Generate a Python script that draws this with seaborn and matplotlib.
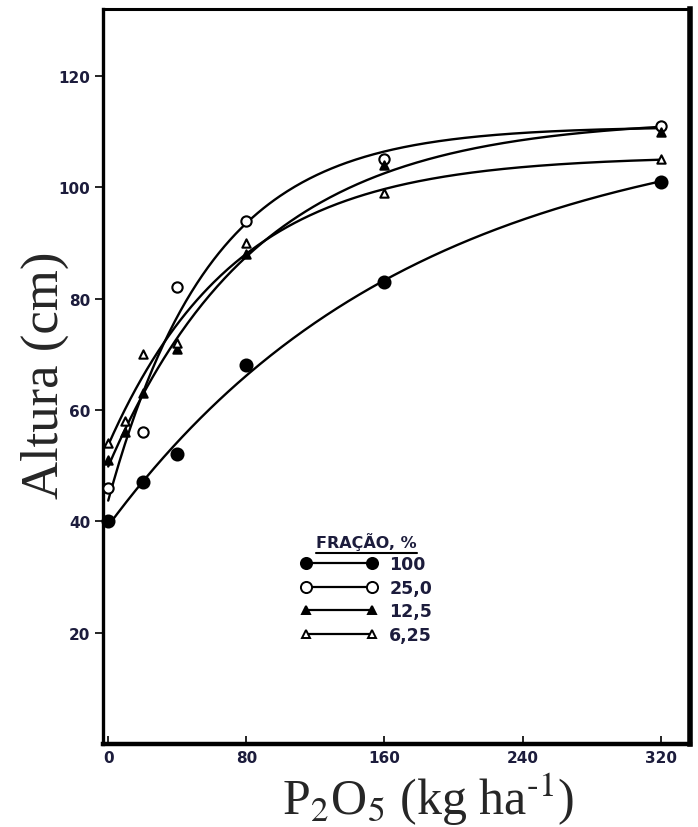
import numpy as np
import pandas as pd
import matplotlib
matplotlib.use('Agg')
import matplotlib.pyplot as plt
from matplotlib.lines import Line2D
import seaborn as sns

# P2O5 doses (kg/ha) and plant height (cm) per fraction
dose_circ = [0, 20, 40, 80, 160, 320]
dose_tri = [0, 10, 20, 40, 80, 160, 320]
h_100 = [40, 47, 52, 68, 83, 101]
h_25 = [46, 56, 82, 94, 105, 111]
h_12_5 = [51, 56, 63, 71, 88, 104, 110]
h_6_25 = [54, 58, 70, 72, 90, 99, 105]

legend_labels = ['100', '25,0', '12,5', '6,25']
xticks = [0, 80, 160, 240, 320]
yticks = [20, 40, 60, 80, 100, 120]

sns.set_style('white')
plt.rcParams['mathtext.fontset'] = 'stix'


def mitscherlich(x, y, xs):
    # y = a - b*exp(-c*x), c by grid search, a and b by least squares
    x = np.asarray(x, float)
    y = np.asarray(y, float)
    best = None
    for c in np.logspace(-4, -0.5, 400):
        A = np.column_stack([np.ones_like(x), -np.exp(-c * x)])
        sol, res, _, _ = np.linalg.lstsq(A, y, rcond=None)
        err = np.sum((A @ sol - y) ** 2)
        if best is None or err < best[0]:
            best = (err, c, sol)
    _, c, (a, b) = best
    return a - b * np.exp(-c * xs)


fig = plt.figure(figsize=(6.98, 8.28), dpi=100)
ax = fig.add_axes([0.1476, 0.1002, 0.8409, 0.8877])

series = [
    (dose_circ, h_100, 'o', 'black', 74),
    (dose_circ, h_25, 'o', 'white', 55),
    (dose_tri, h_12_5, '^', 'black', 36),
    (dose_tri, h_6_25, '^', 'white', 36),
]

xs = np.linspace(0, 320, 300)
for x, y, mk, fc, s in series:
    fit = pd.DataFrame({'x': xs, 'y': mitscherlich(x, y, xs)})
    sns.lineplot(data=fit, x='x', y='y', color='black', linewidth=1.7, ax=ax)
    pts = pd.DataFrame({'x': x, 'y': y})
    sns.scatterplot(data=pts, x='x', y='y', marker=mk, s=s, color=fc,
                    edgecolor='black', linewidth=1.5, zorder=5, clip_on=False, ax=ax)

ax.set_xlim(-3, 337)
ax.set_ylim(0, 132)
ax.set_xticks(xticks)
ax.set_yticks(yticks)
ax.set_xlabel('')
ax.set_ylabel('')

tick_col = '#1c1c3c'
ax.tick_params(axis='y', direction='out', length=6, width=1.2, color='black',
               labelsize=11, labelcolor=tick_col, pad=3, left=True)
ax.tick_params(axis='x', direction='in', length=6, width=1.2, color='black',
               labelsize=11, labelcolor=tick_col, pad=4, bottom=True)
for lab in ax.get_xticklabels() + ax.get_yticklabels():
    lab.set_fontweight('bold')

for side, lw in [('left', 2.4), ('bottom', 3.2), ('right', 4.0), ('top', 2.2)]:
    ax.spines[side].set_visible(True)
    ax.spines[side].set_color('black')
    ax.spines[side].set_linewidth(lw)

# legend with markers at both ends of each line
handles = []
for x, y, mk, fc, s in series:
    handles.append(Line2D([], [], color='black', linewidth=1.6, marker=mk,
                          markersize=8 if mk == 'o' else 6,
                          markerfacecolor=fc, markeredgecolor='black', markeredgewidth=1.4))
leg = ax.legend(handles, legend_labels, title='FRAÇÃO, %', loc='upper left',
                bbox_to_anchor=(0.31, 0.31), frameon=False, numpoints=2,
                handlelength=4.4, handletextpad=0.7, labelspacing=0.32,
                prop={'weight': 'bold', 'size': 12.5})
leg.get_title().set_fontweight('bold')
leg.get_title().set_fontsize(11.5)
leg.get_title().set_color(tick_col)
for t in leg.get_texts():
    t.set_color(tick_col)

fig.text(45 / 698, 1 - 375 / 828, 'Altura (cm)', rotation=90, ha='center', va='center',
         fontsize=38, family='Liberation Serif')
fig.text(428 / 698, 1 - 800 / 828, r'P$_2$O$_5$ (kg ha$^{\text{-1}}$)', ha='center',
         va='center', fontsize=36, family='Liberation Serif')

# underline legend title
fig.canvas.draw()
bb = leg.get_title().get_window_extent(fig.canvas.get_renderer())
bb = bb.transformed(fig.transFigure.inverted())
fig.lines.append(Line2D([bb.x0, bb.x1], [bb.y0 - 0.004, bb.y0 - 0.004],
                        transform=fig.transFigure, color='black', linewidth=1.5))

fig.savefig('out.png', dpi=100)
